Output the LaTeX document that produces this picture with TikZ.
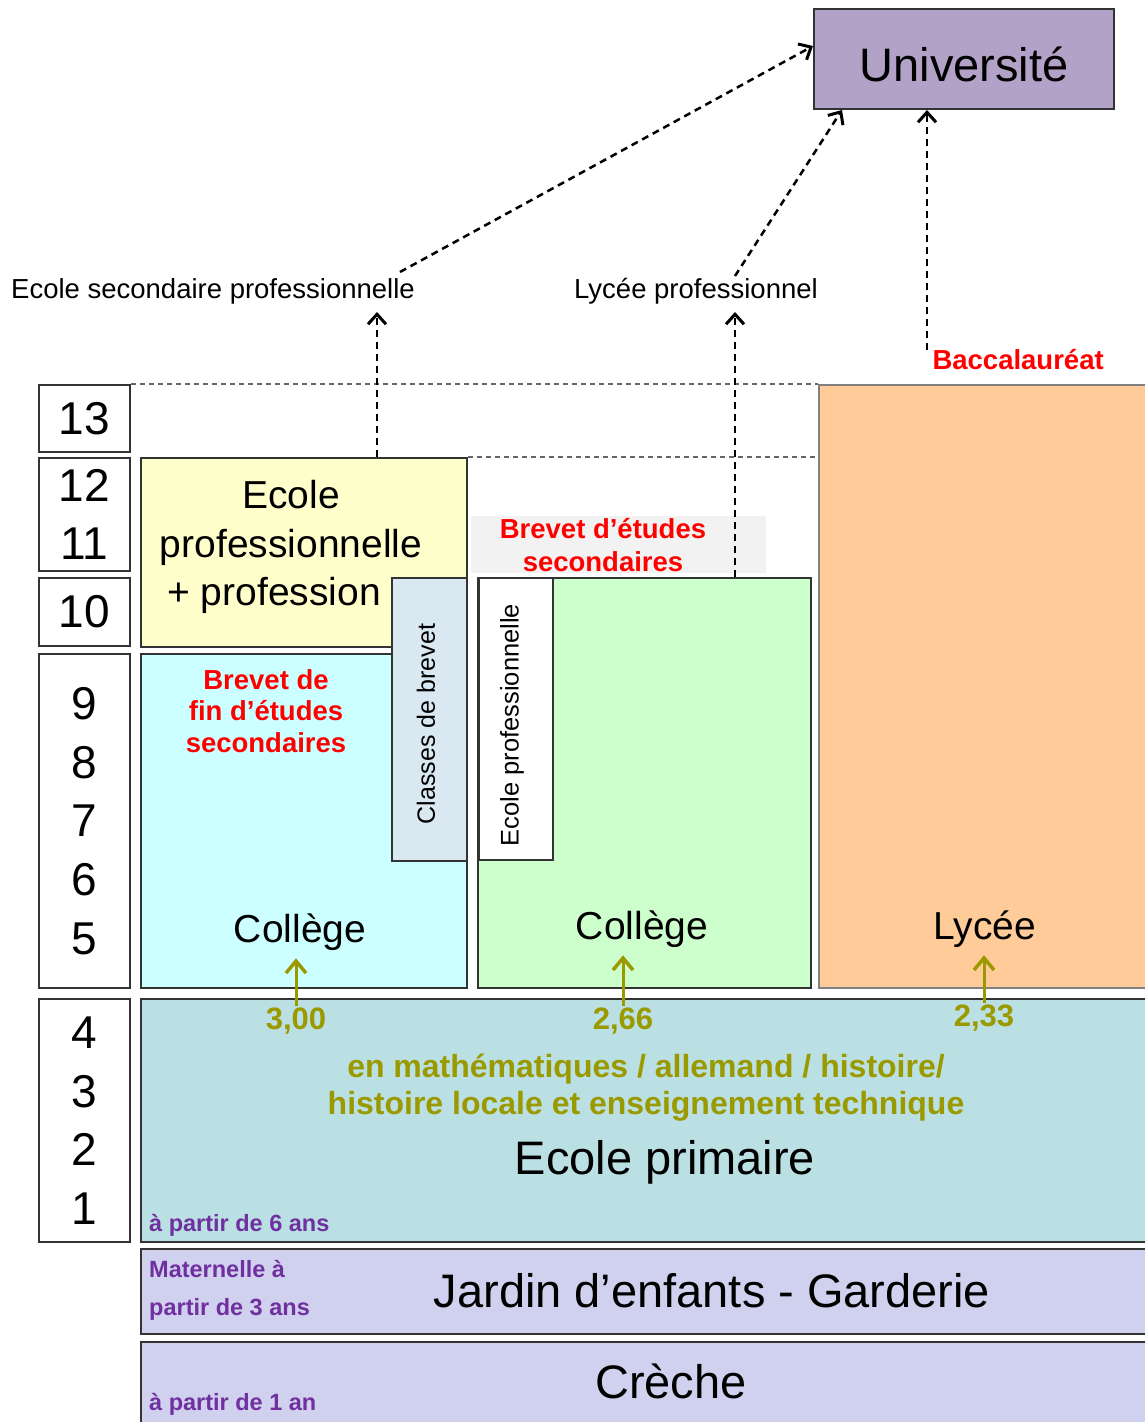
\documentclass[tikz,border=0pt]{standalone}
\usepackage{fontspec}
\setmainfont{Liberation Sans}
\usetikzlibrary{shapes,arrows.meta,positioning}
\definecolor{univfill}{HTML}{B3A2C7}
\definecolor{yelfill}{HTML}{FFFFCC}
\definecolor{cyanfill}{HTML}{CCFFFF}
\definecolor{brevfill}{HTML}{DAE9F1}
\definecolor{greenfill}{HTML}{CCFFCC}
\definecolor{orangefill}{HTML}{FFCC99}
\definecolor{primfill}{HTML}{BBE0E3}
\definecolor{jardfill}{HTML}{D0D1EE}
\definecolor{olivetxt}{HTML}{9A9A00}
\definecolor{purpletxt}{HTML}{7030A0}
\tikzstyle{block} = [rectangle, draw=black!80, line width=2pt, anchor=north west, inner sep=0pt]
\tikzstyle{year} = [block, fill=white, align=center, font=\fontsize{46}{58.6}\selectfont]
\tikzstyle{big} = [font=\fontsize{39}{48.5}\selectfont, align=center]
\tikzstyle{huge} = [font=\fontsize{47}{56}\selectfont]
\tikzstyle{redtxt} = [text=red, align=center, font=\fontsize{27.5}{32}\selectfont\bfseries]
\tikzstyle{olivelbl} = [text=olivetxt, align=center, inner sep=2pt, font=\fontsize{31}{37}\selectfont\bfseries]
\tikzstyle{purplelbl} = [text=purpletxt, align=left, anchor=west, inner sep=0pt, font=\fontsize{23.5}{38}\selectfont\bfseries]
\tikzstyle{small} = [font=\fontsize{27.5}{33}\selectfont]
\tikzstyle{dline} = [draw, line width=2.5pt, dash pattern=on 7pt off 5pt, -{Straight Barb[length=10pt,width=18pt,line width=3pt]}]
\tikzstyle{gridline} = [draw=black!60, line width=2pt, dash pattern=on 5pt off 4pt]
\tikzstyle{oline} = [draw=olivetxt, line width=3pt, -{Straight Barb[length=12pt,width=20pt,line width=3.5pt]}]
\tikzstyle{school} = [big, anchor=base, inner sep=8pt]

\begin{document}
\begin{tikzpicture}[x=1pt,y=-1pt]
  \useasboundingbox (0,0) rectangle (1144,1422);

  % years
  \node [year, minimum width=91pt, minimum height=67pt] (yr13) at (38,384) {13};
  \node [year, minimum width=91pt, minimum height=113pt] (yr1211) at (38,457) {12\\11};
  \node [year, minimum width=91pt, minimum height=68pt] (yr10) at (38,577) {10};
  \node [year, minimum width=91pt, minimum height=334pt] (yr95) at (38,653) {9\\8\\7\\6\\5};
  \node [year, minimum width=91pt, minimum height=243pt] (yr41) at (38,998) {4\\3\\2\\1};

  % secondary schools
  \node [block, fill=yelfill, minimum width=326pt, minimum height=189pt] (prof) at (140,457) {};
  \node [big] (proftxt) at (291,547) {Ecole\\professionnelle\\+ profession\hspace*{34pt}};
  \node [block, fill=cyanfill, minimum width=326pt, minimum height=334pt] (coll1box) at (140,653) {};
  \node [redtxt, font=\fontsize{27.5}{31.5}\selectfont\bfseries] (brevfin) at (266,711) {Brevet de\\fin d’études\\secondaires};
  \node [block, fill=brevfill, minimum width=75pt, minimum height=283pt] (classes) at (391,577) {};
  \node [rotate=90, font=\fontsize{25}{30}\selectfont] at (426,724) {Classes de brevet};

  \node [block, draw=none, fill=gray!10, minimum width=295pt, minimum height=57pt] (bregray) at (470,515) {};
  \node [redtxt, font=\fontsize{27.5}{33}\selectfont\bfseries] (brevsec) at (603,545) {Brevet d’études\\secondaires};
  \node [block, fill=greenfill, minimum width=333pt, minimum height=410pt] (coll2box) at (477,577) {};
  \node [block, fill=white, minimum width=74pt, minimum height=282pt] (vocbox) at (478,577) {};
  \node [rotate=90, font=\fontsize{25.5}{30}\selectfont] at (512,725) {Ecole professionnelle};

  \node [block, draw=gray, line width=1.5pt, fill=orangefill, minimum width=340pt, minimum height=603pt] (lycbox) at (818,384) {};

  \node [school] (coll1) at (300,942) {Collège};
  \node [school] (coll2) at (642,939) {Collège};
  \node [school] (lyc) at (985,939) {Lycée};

  % dotted year lines
  \draw [gridline] (yr13.north east) -- (lycbox.north west);
  \draw [gridline] (prof.north east) -- (prof.north east -| lycbox.west);

  % primary and pre-school
  \node [block, fill=primfill, minimum width=1010pt, minimum height=243pt] (primbox) at (140,998) {};
  \node [block, fill=jardfill, minimum width=1010pt, minimum height=85pt] (jardbox) at (140,1248) {};
  \node [block, fill=jardfill, minimum width=1010pt, minimum height=90pt] (crechebox) at (140,1341) {};

  \node [olivelbl] (v300) at (296,1021) {3,00};
  \node [olivelbl] (v266) at (623,1021) {2,66};
  \node [olivelbl] (v233) at (984,1018) {2,33};
  \node [olivelbl, font=\fontsize{32}{37}\selectfont\bfseries] (subjects) at (646,1088) {en mathématiques / allemand / histoire/\\histoire locale et enseignement technique};
  \node [huge] (prim) at (665,1162) {Ecole primaire};
  \node [purplelbl] (age6) at (149,1225) {à partir de 6 ans};
  \node [huge] (jard) at (712,1291) {Jardin d’enfants - Garderie};
  \node [purplelbl] (age3) at (149,1290) {Maternelle à\\partir de 3 ans};
  \node [huge] (creche) at (671,1381) {Crèche};
  \node [purplelbl] (age1) at (149,1404) {à partir de 1 an};

  \draw [oline] (v300.north) -- (v300.north |- coll1.south);
  \draw [oline] (v266.north) -- (v266.north |- coll2.south);
  \draw [oline] (v233.north) -- (v233.north |- lyc.south);

  % upper level
  \node [block, fill=univfill, minimum width=300pt, minimum height=100pt] (univ) at (813,8) {};
  \node [huge, yshift=-5pt] (univtxt) at (univ.center) {Université};
  \node [small] (esp) at (213,291) {Ecole secondaire professionnelle};
  \node [small] (lp) at (696,291) {Lycée professionnel};
  \node [redtxt, anchor=west] (bac) at (929,360) {Baccalauréat};

  \coordinate (espin) at (377,312);
  \coordinate (espout) at (400,272);
  \coordinate (lpin) at (735,312);
  \coordinate (lpout) at (735,276);
  \coordinate (bacout) at (927,350);

  \path [dline] (prof.north -| espin) -- (espin);
  \path [dline] (espout) -- ([yshift=13pt]univ.west);
  \path [dline] (coll2box.north -| lpin) -- (lpin);
  \path [dline] (lpout) -- ([xshift=29pt]univ.south west);
  \path [dline] (bacout) -- (univ.south -| bacout);
\end{tikzpicture}
\end{document}
